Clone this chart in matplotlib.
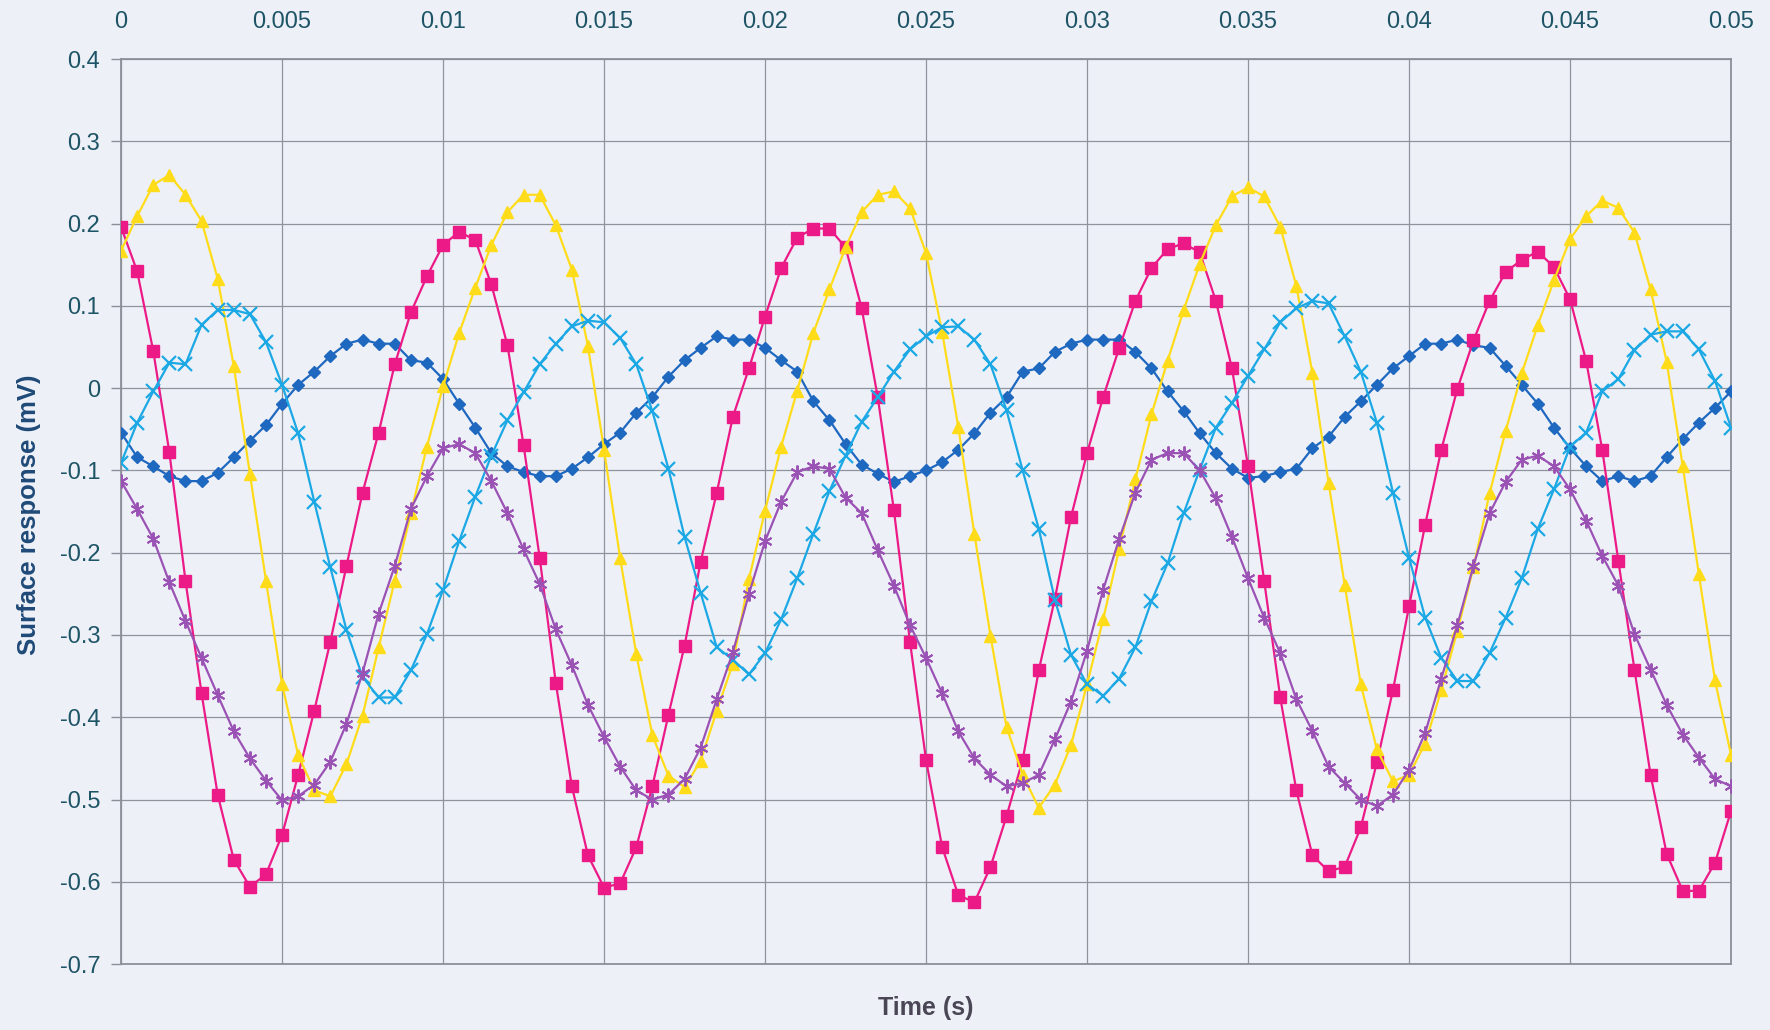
import numpy as np
import matplotlib
matplotlib.use('Agg')
import matplotlib.pyplot as plt

dt = 0.0005

blue = [-0.054, -0.084, -0.095, -0.107, -0.113, -0.113, -0.103, -0.084, -0.064, -0.045,
        -0.019, 0.004, 0.020, 0.039, 0.054, 0.059, 0.054, 0.054, 0.034, 0.031,
        0.011, -0.019, -0.048, -0.079, -0.095, -0.102, -0.107, -0.107, -0.098, -0.084,
        -0.068, -0.054, -0.030, -0.011, 0.014, 0.034, 0.049, 0.063, 0.059, 0.059,
        0.049, 0.034, 0.020, -0.016, -0.039, -0.068, -0.093, -0.104, -0.114, -0.107,
        -0.100, -0.090, -0.075, -0.055, -0.030, -0.011, 0.020, 0.024, 0.044, 0.054,
        0.059, 0.059, 0.059, 0.044, 0.024, -0.004, -0.028, -0.055, -0.079, -0.098,
        -0.109, -0.107, -0.102, -0.098, -0.073, -0.059, -0.035, -0.016, 0.004, 0.024,
        0.039, 0.054, 0.054, 0.059, 0.052, 0.049, 0.027, 0.004, -0.019, -0.048,
        -0.073, -0.095, -0.113, -0.107, -0.113, -0.107, -0.084, -0.062, -0.042, -0.024,
        -0.004]

pink = [0.196, 0.142, 0.045, -0.078, -0.234, -0.371, -0.494, -0.573, -0.606, -0.591,
        -0.543, -0.470, -0.392, -0.308, -0.216, -0.127, -0.054, 0.029, 0.092, 0.136,
        0.174, 0.190, 0.180, 0.126, 0.052, -0.069, -0.206, -0.358, -0.484, -0.568,
        -0.607, -0.602, -0.558, -0.484, -0.397, -0.313, -0.211, -0.127, -0.035, 0.024,
        0.087, 0.146, 0.183, 0.194, 0.194, 0.171, 0.097, -0.011, -0.148, -0.308,
        -0.452, -0.558, -0.616, -0.625, -0.582, -0.520, -0.452, -0.343, -0.256, -0.157,
        -0.079, -0.011, 0.049, 0.106, 0.146, 0.169, 0.176, 0.165, 0.106, 0.024,
        -0.095, -0.234, -0.376, -0.489, -0.568, -0.587, -0.582, -0.534, -0.455, -0.367,
        -0.265, -0.166, -0.075, -0.001, 0.058, 0.106, 0.141, 0.156, 0.166, 0.147,
        0.108, 0.033, -0.075, -0.210, -0.342, -0.470, -0.566, -0.611, -0.611, -0.577,
        -0.514]

yellow = [0.167, 0.209, 0.247, 0.259, 0.235, 0.203, 0.133, 0.027, -0.104, -0.234,
          -0.360, -0.446, -0.489, -0.496, -0.457, -0.398, -0.315, -0.234, -0.152, -0.071,
          0.002, 0.067, 0.122, 0.174, 0.214, 0.235, 0.235, 0.198, 0.144, 0.051,
          -0.075, -0.207, -0.323, -0.422, -0.471, -0.485, -0.453, -0.392, -0.335, -0.232,
          -0.149, -0.071, -0.003, 0.067, 0.120, 0.171, 0.214, 0.235, 0.239, 0.219,
          0.164, 0.068, -0.047, -0.177, -0.301, -0.412, -0.470, -0.510, -0.482, -0.434,
          -0.360, -0.281, -0.195, -0.111, -0.032, 0.033, 0.095, 0.151, 0.198, 0.233,
          0.244, 0.233, 0.196, 0.124, 0.018, -0.115, -0.239, -0.360, -0.439, -0.478,
          -0.470, -0.432, -0.367, -0.295, -0.218, -0.128, -0.052, 0.018, 0.077, 0.131,
          0.181, 0.209, 0.228, 0.219, 0.189, 0.120, 0.032, -0.095, -0.226, -0.355,
          -0.446]

cyan = [-0.091, -0.042, -0.004, 0.031, 0.029, 0.077, 0.095, 0.095, 0.090, 0.056,
        0.004, -0.055, -0.138, -0.218, -0.294, -0.351, -0.376, -0.376, -0.343, -0.299,
        -0.245, -0.186, -0.132, -0.082, -0.039, -0.005, 0.029, 0.054, 0.075, 0.082,
        0.080, 0.061, 0.029, -0.028, -0.098, -0.181, -0.249, -0.315, -0.330, -0.348,
        -0.322, -0.281, -0.231, -0.177, -0.125, -0.082, -0.041, -0.011, 0.020, 0.047,
        0.063, 0.074, 0.075, 0.059, 0.029, -0.027, -0.100, -0.171, -0.257, -0.324,
        -0.360, -0.374, -0.353, -0.315, -0.259, -0.213, -0.152, -0.099, -0.048, -0.018,
        0.015, 0.047, 0.080, 0.097, 0.106, 0.103, 0.063, 0.020, -0.042, -0.127,
        -0.206, -0.279, -0.328, -0.356, -0.356, -0.322, -0.279, -0.231, -0.171, -0.123,
        -0.071, -0.054, -0.004, 0.011, 0.046, 0.065, 0.069, 0.069, 0.047, 0.009,
        -0.048]

purple = [-0.113, -0.147, -0.183, -0.236, -0.283, -0.328, -0.373, -0.417, -0.450, -0.477,
          -0.501, -0.496, -0.482, -0.454, -0.408, -0.346, -0.274, -0.216, -0.147, -0.107,
          -0.073, -0.068, -0.079, -0.113, -0.152, -0.196, -0.238, -0.293, -0.337, -0.385,
          -0.424, -0.460, -0.489, -0.500, -0.494, -0.475, -0.437, -0.378, -0.321, -0.250,
          -0.186, -0.138, -0.102, -0.095, -0.098, -0.133, -0.152, -0.197, -0.240, -0.288,
          -0.328, -0.371, -0.417, -0.450, -0.470, -0.484, -0.480, -0.470, -0.427, -0.381,
          -0.319, -0.245, -0.183, -0.127, -0.087, -0.079, -0.079, -0.100, -0.134, -0.181,
          -0.231, -0.279, -0.322, -0.378, -0.417, -0.460, -0.480, -0.500, -0.508, -0.494,
          -0.464, -0.419, -0.353, -0.288, -0.216, -0.152, -0.114, -0.087, -0.082, -0.095,
          -0.123, -0.161, -0.204, -0.240, -0.299, -0.342, -0.385, -0.421, -0.449, -0.475,
          -0.484]

x_ticks = [0, 0.005, 0.01, 0.015, 0.02, 0.025, 0.03, 0.035, 0.04, 0.045, 0.05]
x_labels = ['0', '0.005', '0.01', '0.015', '0.02', '0.025', '0.03', '0.035', '0.04', '0.045', '0.05']
y_ticks = [0.4, 0.3, 0.2, 0.1, 0, -0.1, -0.2, -0.3, -0.4, -0.5, -0.6, -0.7]
y_labels = ['0.4', '0.3', '0.2', '0.1', '0', '-0.1', '-0.2', '-0.3', '-0.4', '-0.5', '-0.6', '-0.7']

time_s = np.arange(len(blue)) * dt

plt.rcParams['font.family'] = ['Liberation Sans', 'DejaVu Sans']
bg = '#eef0f8'
tick_col = '#1e5566'

fig = plt.figure(figsize=(17.7, 10.3), dpi=100, facecolor=bg)
ax = fig.add_axes([0.0684, 0.064, 0.9096, 0.8787])
ax.set_facecolor(bg)

# draw order: blue, pink, yellow, cyan, purple
ax.plot(time_s, blue, color='#1f68c0', lw=1.6, marker='D', ms=6.5, mec='#1f68c0', zorder=3)
ax.plot(time_s, pink, color='#ec1a86', lw=1.6, marker='s', ms=8.5, mec='#ec1a86', zorder=3)
ax.plot(time_s, yellow, color='#ffdc1a', lw=1.6, marker='^', ms=9, mec='#ffdc1a', zorder=3)
ax.plot(time_s, cyan, color='#1ba8e4', lw=1.6, marker='x', ms=10, mew=1.6, zorder=3)
ax.plot(time_s, purple, color='#9a52b4', lw=1.6, marker=(6, 2, 0), ms=10, mew=1.4, zorder=3)

ax.set_xlim(0, 0.05)
ax.set_ylim(-0.7, 0.4)
ax.set_xticks(x_ticks)
ax.set_xticklabels(x_labels)
ax.set_yticks(y_ticks)
ax.set_yticklabels(y_labels)
ax.xaxis.tick_top()
ax.tick_params(axis='x', length=0, pad=19, labelsize=17, labelcolor=tick_col)
ax.tick_params(axis='y', length=7, width=1, color='#8a8f98', pad=8, labelsize=17, labelcolor=tick_col)

ax.grid(True, color='#8e949c', lw=0.9)
ax.set_axisbelow(True)
for s in ax.spines.values():
    s.set_color('#8a8f98')
    s.set_linewidth(1.3)

fig.text(0.0165, 0.5, 'Surface response (mV)', rotation=90, ha='center', va='center',
         fontsize=18.5, fontweight='bold', color='#1f4a78')
fig.text(0.523, 0.021, 'Time (s)', ha='center', va='center',
         fontsize=18, fontweight='bold', color='#4a4656')

fig.savefig('out.png', dpi=100, facecolor=bg)
